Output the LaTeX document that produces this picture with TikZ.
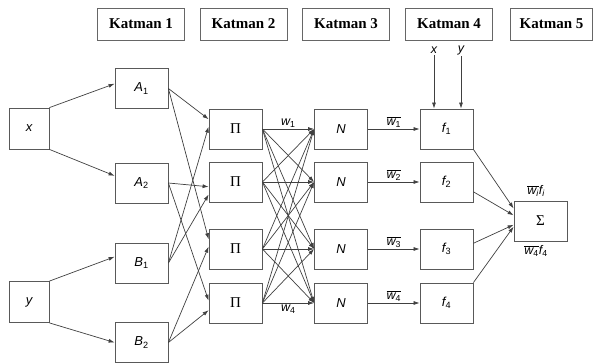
\documentclass[tikz,border=0pt]{standalone}
\usepackage{fontspec}
\setmainfont{Liberation Serif}
\newfontfamily\lblfont{Liberation Sans}
\usepackage{tikz}
\usetikzlibrary{arrows.meta}

\newcommand{\lbl}[1]{{\lblfont\itshape #1}}
\newcommand{\ix}[1]{\textsubscript{\lblfont\upshape #1}}
\newcommand{\wbar}[1]{$\overline{\hbox{\lbl{w}\ix{#1}}}$}
\newcommand{\bigsym}[1]{{\fontsize{15}{15}\selectfont #1}}

\begin{document}
\begin{tikzpicture}[x=1pt, y=-1pt,
    layer/.style={rectangle, draw=black!60, line width=0.8pt, minimum width=87pt, minimum height=32pt, font=\fontsize{15}{15}\selectfont\bfseries},
    unit/.style={rectangle, draw=black!65, line width=0.8pt, minimum width=53pt, minimum height=40pt, font=\fontsize{13}{13}\selectfont},
    inp/.style={unit, minimum width=40pt, minimum height=41pt},
    arrow/.style={-{Latex[length=6pt,width=4pt]}, draw=black!75, line width=0.7pt},
    wlabel/.style={font=\fontsize{12.5}{13}\selectfont, inner sep=1.5pt}
]
    \useasboundingbox (0,0) rectangle (593,363);

    % Layer titles
    \node[layer] (k1) at (141,24) {Katman 1};
    \node[layer] (k2) at (243.5,24) {Katman 2};
    \node[layer] (k3) at (346,24) {Katman 3};
    \node[layer] (k4) at (449,24) {Katman 4};
    \node[layer, minimum width=82pt] (k5) at (551.5,24) {Katman 5};

    % Inputs
    \node[inp] (x) at (29,128.5) {\lbl{x}};
    \node[inp] (y) at (29,302) {\lbl{y}};

    % Membership functions
    \node[unit] (a1) at (141.5,88.5) {\lbl{A}\ix{1}};
    \node[unit] (a2) at (141.5,183) {\lbl{A}\ix{2}};
    \node[unit] (b1) at (141.5,263) {\lbl{B}\ix{1}};
    \node[unit] (b2) at (141.5,342.5) {\lbl{B}\ix{2}};

    % Rule nodes
    \node[unit] (p1) at (235.5,129) {\bigsym{Π}};
    \node[unit] (p2) at (235.5,182) {\bigsym{Π}};
    \node[unit] (p3) at (235.5,249) {\bigsym{Π}};
    \node[unit] (p4) at (235.5,303) {\bigsym{Π}};

    % Normalisation
    \node[unit] (n1) at (341,129) {\lbl{N}};
    \node[unit] (n2) at (341,182) {\lbl{N}};
    \node[unit] (n3) at (341,249) {\lbl{N}};
    \node[unit] (n4) at (341,303) {\lbl{N}};

    % Consequents
    \node[unit] (f1) at (446.5,129) {\lbl{f}\ix{1}};
    \node[unit] (f2) at (446.5,182) {\lbl{f}\ix{2}};
    \node[unit] (f3) at (446.5,249) {\lbl{f}\ix{3}};
    \node[unit] (f4) at (446.5,303) {\lbl{f}\ix{4}};

    % Output
    \node[unit] (s) at (540.5,221) {\bigsym{Σ}};
    \node[wlabel] (stop) at (536,191) {\wbar{\itshape i}\lbl{f}\ix{\itshape i}};
    \node[wlabel] (sbot) at (536,251) {\wbar{4}\lbl{f}\ix{4}};

    % Inputs to layer 1
    \draw[arrow] (x.north east) -- (a1.170);
    \draw[arrow] (x.south east) -- (a2.165);
    \draw[arrow] (y.north east) -- (b1.167);
    \draw[arrow] (y.south east) -- (b2.west);

    % Layer 1 to layer 2
    \draw[arrow] (a1.east) -- (p1.160);
    \draw[arrow] (a1.east) -- (p3.160);
    \draw[arrow] (a2.east) -- (p2.190);
    \draw[arrow] (a2.east) -- (p4.175);
    \draw[arrow] (b1.east) -- (p1.175);
    \draw[arrow] (b1.east) -- (p2.205);
    \draw[arrow] (b2.east) -- (p3.175);
    \draw[arrow] (b2.east) -- (p4.195);

    % Layer 2 to layer 3
    \draw[arrow] (p1.east) -- node[wlabel, above] (w1) {\lbl{w}\ix{1}} (n1.west);
    \draw[arrow] (p1.east) -- (n2.west);
    \draw[arrow] (p1.east) -- (n3.west);
    \draw[arrow] (p1.east) -- (n4.west);
    \draw[arrow] (p2.east) -- (n1.west);
    \draw[arrow] (p2.east) -- (n2.west);
    \draw[arrow] (p2.east) -- (n3.west);
    \draw[arrow] (p2.east) -- (n4.west);
    \draw[arrow] (p3.east) -- (n1.west);
    \draw[arrow] (p3.east) -- (n2.west);
    \draw[arrow] (p3.east) -- (n3.west);
    \draw[arrow] (p3.east) -- (n4.west);
    \draw[arrow] (p4.east) -- (n1.west);
    \draw[arrow] (p4.east) -- (n2.west);
    \draw[arrow] (p4.east) -- (n3.west);
    \draw[arrow] (p4.east) -- node[wlabel, below] (w4) {\lbl{w}\ix{4}} (n4.west);

    % Layer 3 to layer 4
    \draw[arrow] (n1.east) -- node[wlabel, above] (nw1) {\wbar{1}} (f1.west);
    \draw[arrow] (n2.east) -- node[wlabel, above] (nw2) {\wbar{2}} (f2.west);
    \draw[arrow] (n3.east) -- node[wlabel, above] (nw3) {\wbar{3}} (f3.west);
    \draw[arrow] (n4.east) -- node[wlabel, above] (nw4) {\wbar{4}} (f4.west);

    % Inputs to the consequent
    \node[wlabel] (fx) at (434,50) {\lbl{x}};
    \node[wlabel] (fy) at (461,50) {\lbl{y}};
    \draw[arrow] (fx) -- (fx |- f1.north);
    \draw[arrow] (fy) -- (fy |- f1.north);

    % Layer 4 to layer 5
    \draw[arrow] (f1.south east) -- (s.155);
    \draw[arrow] (f2.-20) -- (s.168);
    \draw[arrow] (f3.12) -- (s.188);
    \draw[arrow] (f4.north east) -- (s.192);
\end{tikzpicture}
\end{document}
